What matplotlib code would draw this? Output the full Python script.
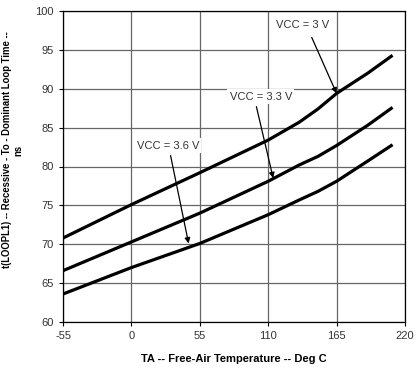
import numpy as np
import matplotlib.pyplot as plt

plt.rcParams['font.family'] = ['Liberation Sans', 'DejaVu Sans']
plt.rcParams['axes.unicode_minus'] = False

# Temperature points (deg C) and loop time (ns)
temp = [-55, 0, 55, 110, 135, 150, 165, 190, 210]
vcc_3v0 = [70.8, 75.1, 79.2, 83.4, 85.7, 87.4, 89.4, 92.0, 94.3]
vcc_3v3 = [66.6, 70.3, 74.0, 78.1, 80.2, 81.3, 82.7, 85.3, 87.6]
vcc_3v6 = [63.6, 67.0, 70.1, 73.8, 75.7, 76.8, 78.1, 80.7, 82.8]

xticks = [-55, 0, 55, 110, 165, 220]
yticks = [60, 65, 70, 75, 80, 85, 90, 95, 100]

labels = ["VCC = 3 V", "VCC = 3.3 V", "VCC = 3.6 V"]
label_xy = [(138, 98.2), (104, 89.0), (29.5, 82.7)]
arrow_from = [(145, 96.6), (100.5, 87.7), (31.5, 81.4)]
arrow_to = [(165, 89.4), (114, 78.5), (46, 70.1)]

fig = plt.figure(figsize=(4.19, 3.68), dpi=100)
ax = fig.add_axes([63 / 419, 1 - 322 / 368, 342 / 419, 311 / 368])

for y in [vcc_3v0, vcc_3v3, vcc_3v6]:
    ax.plot(temp, y, color='black', lw=2.3, solid_capstyle='butt', zorder=3)

ax.set_xlim(-55, 220)
ax.set_ylim(60, 100)
ax.set_xticks(xticks)
ax.set_yticks(yticks)
ax.grid(True, color='#666666', lw=0.9)
ax.tick_params(direction='out', length=3, width=0.8, labelsize=8,
               colors='black', labelcolor='#333333')
for s in ax.spines.values():
    s.set_color('black')
    s.set_linewidth(0.9)

for txt, xy, a0, a1 in zip(labels, label_xy, arrow_from, arrow_to):
    ax.text(xy[0], xy[1], txt, ha='center', va='center', fontsize=8,
            color='#333333', zorder=4,
            bbox=dict(facecolor='white', edgecolor='none', pad=1.5))
    ax.annotate('', xy=a1, xytext=a0, zorder=5,
                arrowprops=dict(arrowstyle='-|>', color='black', lw=0.9,
                                mutation_scale=8, shrinkA=0, shrinkB=0))

ax.set_xlabel("TA -- Free-Air Temperature -- Deg C", fontsize=8,
              fontweight='bold', labelpad=9)
fig.text(12.5 / 419, 1 - 150 / 368,
         "t(LOOPL1) -- Recessive - To - Dominant Loop Time --\nns",
         rotation=90, ha='center', va='center', multialignment='center',
         fontsize=6.85, fontweight='bold', linespacing=1.15)

fig.savefig("out.png", dpi=100)
